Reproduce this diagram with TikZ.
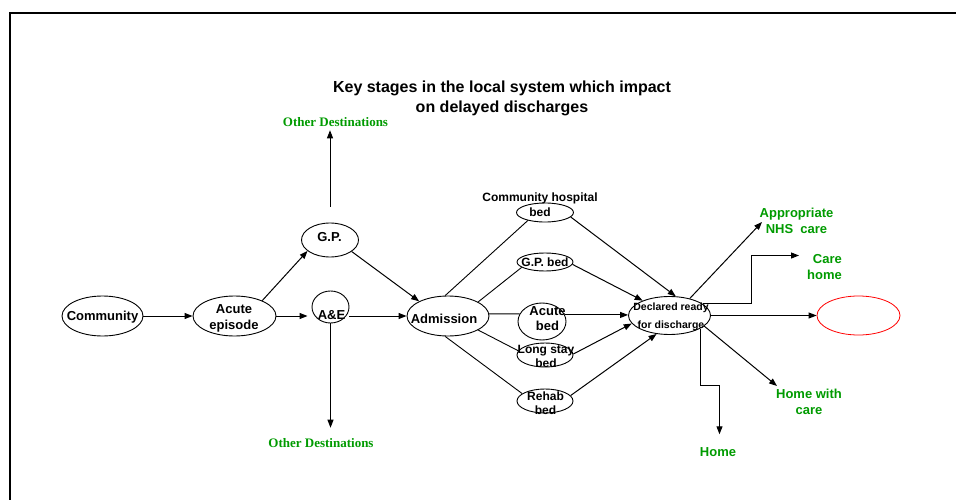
\documentclass[tikz,border=0pt]{standalone}
\usepackage{fontspec}
\setmainfont{Liberation Sans}
\newfontfamily\odfont{Liberation Serif}
\usetikzlibrary{shapes.geometric,arrows.meta}
\definecolor{dgreen}{RGB}{0,155,0}
\tikzset{
  ell/.style={draw, ellipse, inner sep=0pt, line width=0.9pt},
  txt/.style={font=\bfseries\fontsize{13}{16}\selectfont, align=center, inner sep=0pt},
  txtS/.style={font=\bfseries\fontsize{12}{14}\selectfont, align=center, inner sep=0pt},
  grn/.style={txt, text=dgreen},
  odst/.style={font=\odfont\bfseries\fontsize{13}{15}\selectfont, text=dgreen, inner sep=0pt},
  arr/.style={-{Triangle[length=8pt,width=6pt]}, line width=1pt},
  ln/.style={line width=0.9pt},
}
\begin{document}
\begin{tikzpicture}[x=1pt,y=-1pt]
\useasboundingbox (0,0) rectangle (956,500);
\fill[white] (0,0) rectangle (956,500);
\draw[line width=2pt] (956,13) -- (10,13) -- (10,500);

% title
\node[txt, font=\bfseries\fontsize{16}{20}\selectfont] (title) at (502,98.5) {Key stages in the local system which impact\\on delayed discharges};

% left part
\node[ell, minimum width=81pt, minimum height=40pt] (comm) at (102.5,316) {};
\node[txt] (commT) at (102.5,317) {Community};
\node[ell, minimum width=83pt, minimum height=40pt] (acep) at (234.5,316) {};
\node[txt] (acepT) at (234,318) {Acute\\episode};
\node[ell, minimum width=57pt, minimum height=34pt] (gp) at (330,240) {};
\node[txt] (gpT) at (329.5,237) {G.P.};
\node[ell, minimum width=37pt, minimum height=32pt] (ae) at (330.5,307) {};
\node[txt] (aeT) at (331.5,315) {A\&E};
\node[ell, minimum width=82pt, minimum height=40pt] (adm) at (448,316) {};
\node[txt] (admT) at (444,319) {Admission};

\node[odst] (odTop) at (335.5,122) {Other Destinations};
\node[odst] (odBot) at (321,443) {Other Destinations};

% beds
\node[ell, minimum width=57pt, minimum height=19pt] (chb) at (545,212.5) {};
\node[txtS, font=\bfseries\fontsize{12}{15}\selectfont] (chbT) at (540,205) {Community hospital\\bed};
\node[ell, minimum width=56pt, minimum height=18pt] (gpb) at (545,262) {};
\node[txtS] (gpbT) at (545,262) {G.P. bed};
\node[ell, minimum width=48pt, minimum height=37pt] (acb) at (542,321.5) {};
\node[txt, font=\bfseries\fontsize{13}{15}\selectfont] (acbT) at (547.5,318.5) {Acute\\bed};
\node[ell, minimum width=56pt, minimum height=24pt] (lsb) at (545,355) {};
\node[txtS] (lsbT) at (546,356.5) {Long stay\\bed};
\node[ell, minimum width=56pt, minimum height=24pt] (rhb) at (545,401) {};
\node[txtS] (rhbT) at (545.5,403) {Rehab\\bed};

% declared
\node[ell, minimum width=82pt, minimum height=38pt] (drd) at (669.5,315.5) {};
\node[txt, font=\bfseries\fontsize{10.5}{18.5}\selectfont] (drdT) at (671,317) {Declared ready\\for discharge};
\node[ell, draw=red, line width=0.8pt, minimum width=83pt, minimum height=39pt] (tgt) at (858.5,315.5) {};

% destinations
\node[grn] (nhs) at (796.5,220.5) {Appropriate\\NHS\ \ care};
\node[grn, anchor=east, align=right] (care) at (842,267) {Care\\home};
\node[grn] (hwc) at (809,401.5) {Home with\\care};
\node[grn] (home) at (718,452) {Home};

\coordinate (nhsEnd) at (762,222);
\coordinate (cb) at (751.5,255.5);
\coordinate (careEnd) at (799,255.5);
\coordinate (hwcEnd) at (777,386);
\coordinate (hb) at (719.5,385.5);

% left connectors
\draw[arr] (comm.east) -- (acep.west);
\draw[arr, shorten >=4pt] (acep.east) -- (acep.east -| ae.west);
\draw[arr] (ae.east |- adm.west) -- (adm.west);
\draw[arr] (acep.29) -- (gp.206);
\draw[arr] (gp.332) -- (adm.153);
\draw[arr, shorten >=10.5pt] (ae.south) -- (ae.south |- odBot.north);
\draw[arr, shorten >=3.5pt] ([yshift=16pt]gp.north) -- (gp.north |- odTop.south);

% admission to beds
\draw[ln] (adm.98) -- (chb.205);
\draw[ln] (adm.25) -- (gpb.193);
\draw[ln] (adm.3) -- (acb.161);
\draw[ln] (adm.335) -- (lsb.171);
\draw[ln] (adm.262) -- (rhb.162);

% beds to declared
\draw[arr] (chb.350) -- (drd.72);
\draw[arr] (gpb.355) -- (drd.151);
\draw[arr] (acb.16) -- (acb.16 -| drd.west);
\draw[arr] (lsb.2) -- (drd.192);
\draw[arr] (rhb.12) -- (drd.235);

% outgoing
\draw[arr] (drd.40) -- (nhsEnd);
\draw[arr] (drd.19) -| (cb) -- (careEnd);
\draw[arr] (drd.east) -- (tgt.west);
\draw[arr] (drd.343) -- (hwcEnd);
\draw[arr, shorten >=13pt] (drd.337) |- (hb) -- (hb |- home.north);
\end{tikzpicture}
\end{document}
